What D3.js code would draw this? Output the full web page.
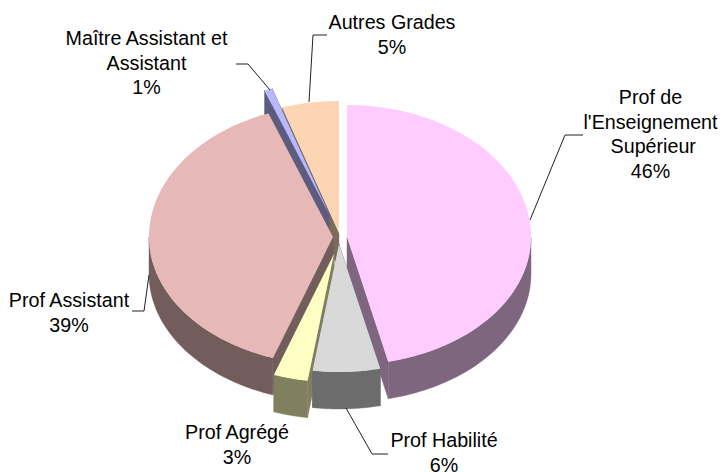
<!DOCTYPE html>
<html><head><meta charset="utf-8">
<style>html,body{margin:0;background:#fff}svg{display:block}text{font-family:"Liberation Sans",Arial,sans-serif;font-size:19.7px;fill:#000}</style>
<script src="https://cdn.jsdelivr.net/npm/d3@7"></script></head><body>
<script>
const categories=["Prof de l'Enseignement Supérieur","Prof Habilité","Prof Agrégé","Prof Assistant","Maître Assistant et Assistant","Autres Grades"];
const values=[46.4,5.9,3,39,0.7,5];
const topColors=["#FFCCFF","#D9D9D9","#FFFFC4","#E6B8B7","#B8B8FF","#FCD5B5"];
const wallColors=["#7F667F","#6C6C6C","#80805F","#735C5C","#5C5C80","#7E6A5A"];
const labelLines=[["Prof de","l'Enseignement"," Supérieur","46%"],["Prof Habilité","6%"],["Prof Agrégé","3%"],["Prof Assistant","39%"],["Maître Assistant et","Assistant","1%"],["Autres Grades","5%"]];

const W=720,H=472,rx=184,ryBack=132,ryFront=128,depth=37,lineGap=24.6;
const apex=[[347,237],[339,244],[334,254],[333,237],[329,214],[339,233]];
const labelPos=[[650.5,104],[444,447],[237,439],[69,307],[146.5,45],[392,29]];
const leaders=[[[583,135],[565,135],[530,220]],[[388,454],[372,454],[346,408]],null,[[132,311],[144,311],[149,275]],[[236,64],[248,64],[270,90]],[[327,35],[313,35],[309,102]]];
const drawOrder=[5,4,3,2,0,1];

const svg=d3.select("body").append("svg").attr("width",W).attr("height",H);
const pie=d3.pie().sort(null).value(d=>d)(values);
const line=d3.line();
const pt=(i,t,dz=0)=>{const c=Math.cos(t);return [apex[i][0]+rx*Math.sin(t),apex[i][1]-(c>0?ryBack:ryFront)*c+dz];};
const ctr=(i,dz=0)=>[apex[i][0],apex[i][1]+dz];
const arcPts=(i,a,b,dz=0)=>d3.range(0,61).map(k=>pt(i,a+(b-a)*k/60,dz));

drawOrder.forEach(i=>{
  const {startAngle:a,endAngle:b}=pie[i];
  const g=svg.append("g");
  const wall=pts=>g.append("path").attr("d",line(pts)+"Z").attr("fill",wallColors[i]).attr("stroke",wallColors[i]).attr("stroke-width",.4);
  [a,b].filter(t=>Math.abs(Math.sin(t))>0.01).forEach(t=>wall([ctr(i),pt(i,t),pt(i,t,depth),ctr(i,depth)]));
  const lo=Math.max(a,Math.PI/2),hi=Math.min(b,Math.PI*1.5);
  if(hi>lo) wall([...arcPts(i,lo,hi),...arcPts(i,lo,hi,depth).reverse()]);
  g.append("path").attr("d",line([ctr(i),...arcPts(i,a,b)])+"Z").attr("fill",topColors[i]);
});

leaders.forEach(l=>{ if(l) svg.append("path").attr("d",line(l)).attr("fill","none").attr("stroke","#222").attr("stroke-width",1);});

labelLines.forEach((lines,i)=>{
  const t=svg.append("text").attr("text-anchor","middle").attr("transform",`translate(${labelPos[i][0]},${labelPos[i][1]})`);
  lines.forEach((s,k)=>t.append("tspan").attr("x",0).attr("y",k*lineGap).attr("xml:space","preserve").text(s));
});
</script></body></html>
